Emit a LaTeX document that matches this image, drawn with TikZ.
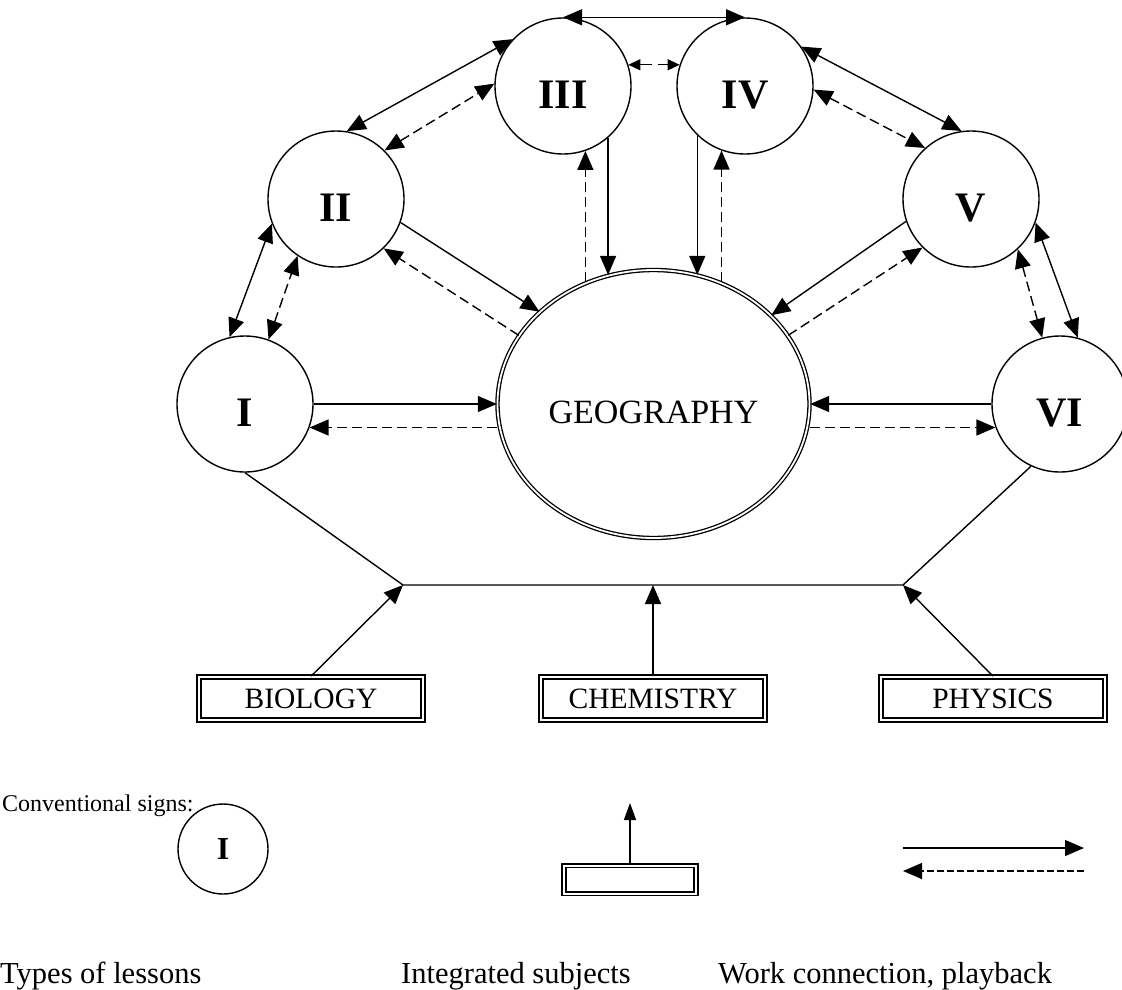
\documentclass[tikz,border=0pt]{standalone}
\usepackage{fontspec}
\setmainfont{Liberation Serif}
\usetikzlibrary{arrows.meta,positioning,calc,shapes.geometric}

\begin{document}
\begin{tikzpicture}[x=1pt, y=1pt,
  >={Triangle[length=19pt,width=16pt]},
  lesson/.style={draw, circle, line width=1.4pt, minimum size=136pt, inner sep=0pt,
                 text height=44pt, text depth=0pt,
                 font=\fontsize{42}{42}\selectfont\bfseries},
  geo/.style={draw, ellipse, double, double distance=1.8pt, line width=1.3pt,
              minimum width=312pt, minimum height=268pt, inner sep=0pt,
              text height=38pt, text depth=0pt, font=\fontsize{34}{34}\selectfont},
  subject/.style={draw, double, double distance=2pt, line width=1.6pt,
                  minimum width=224pt, minimum height=43pt, inner sep=0pt,
                  font=\fontsize{29.5}{30}\selectfont},
  work/.style={->, line width=1.4pt},
  ret/.style={->, line width=1.4pt, dash pattern=on 10pt off 5pt},
  twoway/.style={<->, line width=1.4pt},
  twowayret/.style={<->, line width=1.4pt, dash pattern=on 10pt off 5pt},
  caption/.style={anchor=base west, inner sep=0pt, font=\fontsize{30.5}{31}\selectfont}
]
\useasboundingbox (0,0) rectangle (1122,-989);

% lessons and the main subject
\node[lesson] (I) at (245,-404) {I};
\node[lesson] (II) at (336,-199) {II};
\node[lesson] (III) at (563,-86) {III};
\node[lesson] (IV) at (745,-86) {IV};
\node[lesson] (V) at (971,-199) {V};
\node[lesson] (VI) at (1060,-404) {VI};
\node[geo] (geo) at (653.5,-404) {GEOGRAPHY};

% links between the lessons
\draw[twoway] (I.103) -- (II.201);
\draw[twowayret] (I.70) -- (II.236);
\draw[twoway] (II.81) -- (III.137);
\draw[twowayret] (II.45) -- (III.178);
\draw[twoway] (III.north) -- (IV.north);
\draw[<->, >={Triangle[length=12pt,width=11pt]}, line width=1.4pt,
      dash pattern=on 12pt off 6pt] (III.18) -- (IV.162);
\draw[twoway] (IV.35) -- (V.98);
\draw[twowayret] (IV.357) -- (V.132);
\draw[twoway] (V.340) -- (VI.75);
\draw[twowayret] (V.313) -- (VI.105);

% links with geography
\draw[work] (I.east) -- (geo.west);
\draw[ret] (I.340 -| geo.west) -- (I.340);
\draw[work] (II.340) -- (geo.141.5);
\draw[ret] (geo.153) -- (II.314);
\draw[work] (III.311) -- (III.311 |- geo.109);
\draw[ret] (geo.119 -| III.289) -- (III.289);
\draw[work] (IV.226) -- (IV.226 |- geo.71);
\draw[ret] (geo.61 -| IV.250) -- (IV.250);
\draw[work] (V.199) -- (geo.37);
\draw[ret] (geo.27.5) -- (V.225);
\draw[work] (VI.west) -- (geo.east);
\draw[ret] (VI.200 -| geo.east) -- (VI.200);

% integrated subjects
\coordinate (jl) at (403,-585);
\coordinate (jr) at (903,-585);
\draw[line width=1.4pt] (I.south) -- (jl) -- (jr) -- (VI.245);
\node[subject] (bio) at (311,-698.5) {BIOLOGY};
\node[subject] (chem) at (653,-698.5) {CHEMISTRY};
\node[subject] (phys) at (993,-698.5) {PHYSICS};
\draw[work] (bio.north) -- (jl);
\draw[work] (chem.north) -- (chem.north |- jl);
\draw[work] (phys.north) -- (jr);

% conventional signs
\node[anchor=base west, inner sep=0pt, font=\fontsize{24}{24}\selectfont]
  (signs) at (2,-811) {Conventional signs:};
\node[draw, circle, line width=1.4pt, minimum size=90pt, inner sep=0pt,
      font=\fontsize{32}{32}\selectfont\bfseries] (keyI) at (223,-849) {I};
\node[draw, double, double distance=2pt, line width=1.6pt,
      minimum width=132pt, minimum height=28pt, inner sep=0pt] (keybox) at (630,-879.5) {};
\coordinate (keytip) at (630,-803);
\draw[work, >={Triangle[length=17pt,width=12pt]}] (keybox.north) -- (keytip);
\coordinate (keya) at (903,-848);
\coordinate (keyb) at (1084,-848);
\coordinate (keyc) at (1084,-871);
\coordinate (keyd) at (903,-871);
\draw[work] (keya) -- (keyb);
\draw[work, dash pattern=on 7pt off 3pt] (keyc) -- (keyd);

\node[caption] (lessons) at (0,-983) {Types of lessons};
\node[caption] (integrated) at (401,-983) {Integrated subjects};
\node[caption] (playback) at (718,-983) {Work connection, playback};
\end{tikzpicture}
\end{document}
